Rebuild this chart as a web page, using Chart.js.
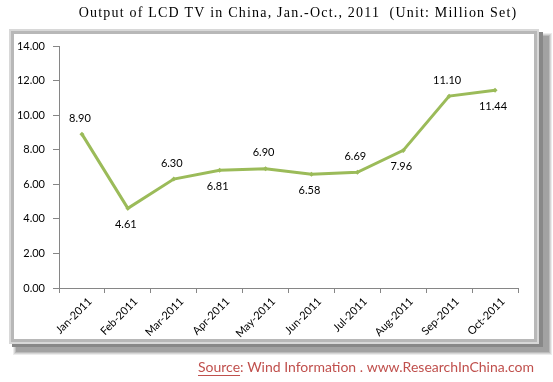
<!DOCTYPE html>
<html><head><meta charset="utf-8">
<script src="https://cdn.jsdelivr.net/npm/chart.js@4/dist/chart.umd.min.js"></script>
<style>html,body{margin:0;padding:0;background:#fff;}#wrap{width:553px;height:382px;position:relative;}</style>
</head><body><div id="wrap"><canvas id="c" width="553" height="382"></canvas></div>
<script>
const categories = ["Jan-2011","Feb-2011","Mar-2011","Apr-2011","May-2011","Jun-2011","Jul-2011","Aug-2011","Sep-2011","Oct-2011"];
const outputValues = [8.90, 4.61, 6.30, 6.81, 6.90, 6.58, 6.69, 7.96, 11.10, 11.44];
const labelSide = ["above","below","above","below","above","below","above","below","above","below"];
const yTicks = [0,2,4,6,8,10,12,14];
const titleText = "Output of LCD TV in China, Jan.-Oct., 2011  (Unit: Million Set)";
const sourceLabel = "Source";
const sourceRest = ": Wind Information . www.ResearchInChina.com";

const framePlugin = {
  id: 'frame',
  beforeDraw(chart) {
    const ctx = chart.ctx;
    ctx.save();
    ctx.fillStyle = '#fff';
    ctx.fillRect(0,0,chart.width,chart.height);
    // soft outer shadow right/bottom
    const shades = ['#ececec','#d6d6d6','#bcbcbc','#a2a2a2'];
    for (let i=0;i<shades.length;i++){
      ctx.fillStyle = shades[i];
      const off = 4 - i;
      ctx.fillRect(13 + i, 33 + i, 535 + off - i, 318 + off - i);
    }
    ctx.fillStyle = '#888';
    ctx.fillRect(12,32,531,315);
    // light border
    ctx.fillStyle = '#d8d8d8';
    ctx.fillRect(9,29,530,315);
    ctx.fillStyle = '#b8b8b8';
    ctx.fillRect(11,31,526,311);
    ctx.fillStyle = '#fff';
    ctx.fillRect(14,34,520,305);
    // title
    ctx.fillStyle = '#000';
    ctx.font = '14px "Liberation Serif", serif';
    try { ctx.letterSpacing = '1.2px'; } catch(e) {}
    ctx.textBaseline = 'middle';
    ctx.textAlign = 'center';
    ctx.fillText(titleText, 298, 13);
    try { ctx.letterSpacing = '0px'; } catch(e) {}
    // source
    ctx.font = '14px Lato, sans-serif';
    ctx.textAlign = 'left';
    const w1 = ctx.measureText(sourceLabel).width;
    const w2 = ctx.measureText(sourceRest).width;
    const x0 = 534 - w1 - w2;
    ctx.fillStyle = '#c0504d';
    ctx.fillText(sourceLabel, x0, 367);
    ctx.fillText(sourceRest, x0 + w1, 367);
    ctx.fillRect(x0, 375, w1, 1);
    ctx.restore();
  }
};

const labelPlugin = {
  id: 'pointLabels',
  afterDatasetsDraw(chart) {
    const ctx = chart.ctx;
    const meta = chart.getDatasetMeta(0);
    ctx.save();
    ctx.font = '11px Lato, sans-serif';
    ctx.fillStyle = '#000';
    ctx.textAlign = 'center';
    ctx.textBaseline = 'middle';
    meta.data.forEach((pt, i) => {
      const dy = labelSide[i] === 'above' ? -16 : 16;
      ctx.fillText(outputValues[i].toFixed(2), pt.x - 2, pt.y + dy);
    });
    ctx.restore();
  }
};

new Chart(document.getElementById('c'), {
  type: 'line',
  data: {
    labels: categories,
    datasets: [{
      data: outputValues,
      borderColor: '#9bbb59',
      backgroundColor: '#9bbb59',
      borderWidth: 3,
      pointRadius: 2.5,
      pointStyle: 'rectRot',
      pointBorderWidth: 0,
      tension: 0
    }]
  },
  options: {
    responsive: false,
    animation: false,
    layout: { padding: { top: 46, right: 35, left: 0, bottom: 0 } },
    plugins: { legend: { display: false }, title: { display: false }, tooltip: { enabled: false } },
    scales: {
      x: {
        offset: true,
        grid: { display: true, drawOnChartArea: false, offset: true, tickLength: 5, color: '#868686' },
        border: { color: '#868686', width: 1 },
        ticks: { color: '#000', font: { family: 'Lato', size: 11 }, minRotation: 45, maxRotation: 45, padding: 2, labelOffset: 8 },
        afterFit(scale) { scale.height = 94; }
      },
      y: {
        min: 0, max: 14,
        afterBuildTicks(scale) { scale.ticks = yTicks.map(v => ({ value: v })); },
        grid: { display: true, drawOnChartArea: false, tickLength: 6, color: '#868686' },
        border: { color: '#868686', width: 1 },
        ticks: { color: '#000', font: { family: 'Lato', size: 11 }, padding: 8, callback: v => Number(v).toFixed(2) },
        afterFit(scale) { scale.width = 59; }
      }
    }
  },
  plugins: [framePlugin, labelPlugin]
});
</script></body></html>
